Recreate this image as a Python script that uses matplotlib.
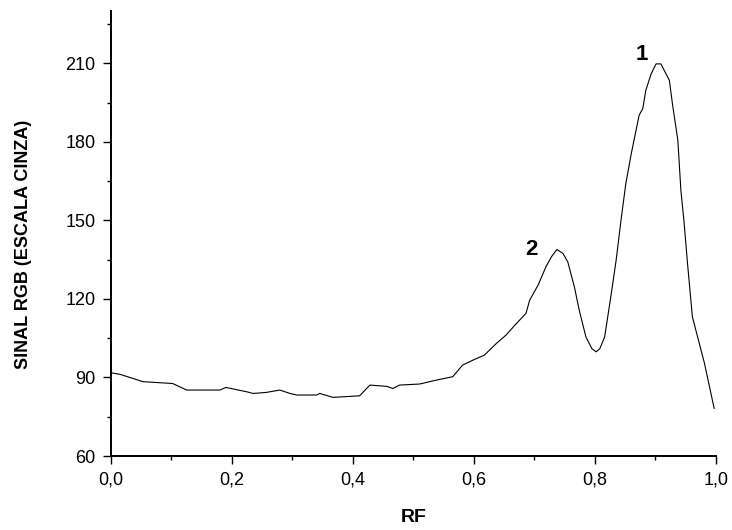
import matplotlib
matplotlib.use('Agg')
import matplotlib.pyplot as plt
from matplotlib.ticker import MultipleLocator, FuncFormatter

plt.rcParams['font.family'] = ['Liberation Sans', 'DejaVu Sans']

rf = [0.0, 0.015, 0.053, 0.102, 0.125, 0.18, 0.19, 0.225, 0.235, 0.257,
      0.279, 0.296, 0.307, 0.34, 0.345, 0.367, 0.411, 0.428, 0.456, 0.466,
      0.477, 0.51, 0.538, 0.565, 0.581, 0.598, 0.617, 0.637, 0.653, 0.670,
      0.686, 0.692, 0.706, 0.719, 0.728, 0.737, 0.747, 0.755, 0.766, 0.774,
      0.785, 0.795, 0.802, 0.808, 0.816, 0.827, 0.835, 0.843, 0.851, 0.860,
      0.873, 0.879, 0.884, 0.893, 0.901, 0.909, 0.923, 0.928, 0.937, 0.942,
      0.947, 0.953, 0.961, 0.981, 0.997]
sinal = [91.8, 91.2, 88.4, 87.7, 85.2, 85.2, 86.2, 84.5, 83.9, 84.3,
         85.2, 83.9, 83.3, 83.3, 83.9, 82.4, 83.0, 87.1, 86.6, 85.8,
         87.1, 87.5, 89.0, 90.3, 94.7, 96.6, 98.5, 103.0, 106.2, 110.6,
         114.5, 119.5, 125.3, 132.3, 136.1, 138.9, 137.4, 134.2, 124.6, 115.7,
         105.5, 101.0, 99.8, 101.0, 105.5, 122.1, 134.8, 150.0, 164.1, 175.5,
         190.2, 192.7, 199.7, 206.1, 209.8, 209.8, 203.5, 194.6, 180.6, 161.5,
         150.0, 133.5, 113.2, 95.4, 78.2]

picos = ['1', '2']
picos_x = [0.877, 0.695]
picos_y = [213.5, 139.0]

fig = plt.figure(figsize=(7.32, 5.30), dpi=100)
ax = fig.add_axes([0.1516, 0.1396, 0.8265, 0.8396])

ax.plot(rf, sinal, color='black', linewidth=0.8)

for lab, px, py in zip(picos, picos_x, picos_y):
    ax.text(px, py, lab, fontsize=16, fontweight='bold', ha='center', va='center')

ax.set_xlim(0, 1.0)
ax.set_ylim(60, 230)
ax.xaxis.set_major_locator(MultipleLocator(0.2))
ax.xaxis.set_minor_locator(MultipleLocator(0.1))
ax.yaxis.set_major_locator(MultipleLocator(30))
ax.yaxis.set_minor_locator(MultipleLocator(15))
ax.xaxis.set_major_formatter(FuncFormatter(lambda v, p: f'{v:.1f}'.replace('.', ',')))
ax.set_yticks([60, 90, 120, 150, 180, 210])

ax.spines['top'].set_visible(False)
ax.spines['right'].set_visible(False)
ax.spines['left'].set_linewidth(1.4)
ax.spines['bottom'].set_linewidth(1.4)
ax.tick_params(which='major', direction='out', length=6, width=1, labelsize=13, pad=5)
ax.tick_params(which='minor', direction='out', length=3, width=1)

ax.set_xlabel('RF', fontsize=14, fontweight='bold')
ax.set_ylabel('SINAL RGB (ESCALA CINZA)', fontsize=13, fontweight='bold')
ax.xaxis.set_label_coords(0.5, -0.12)
ax.yaxis.set_label_coords(-0.13, 0.476)

fig.savefig('out.png', dpi=100)
